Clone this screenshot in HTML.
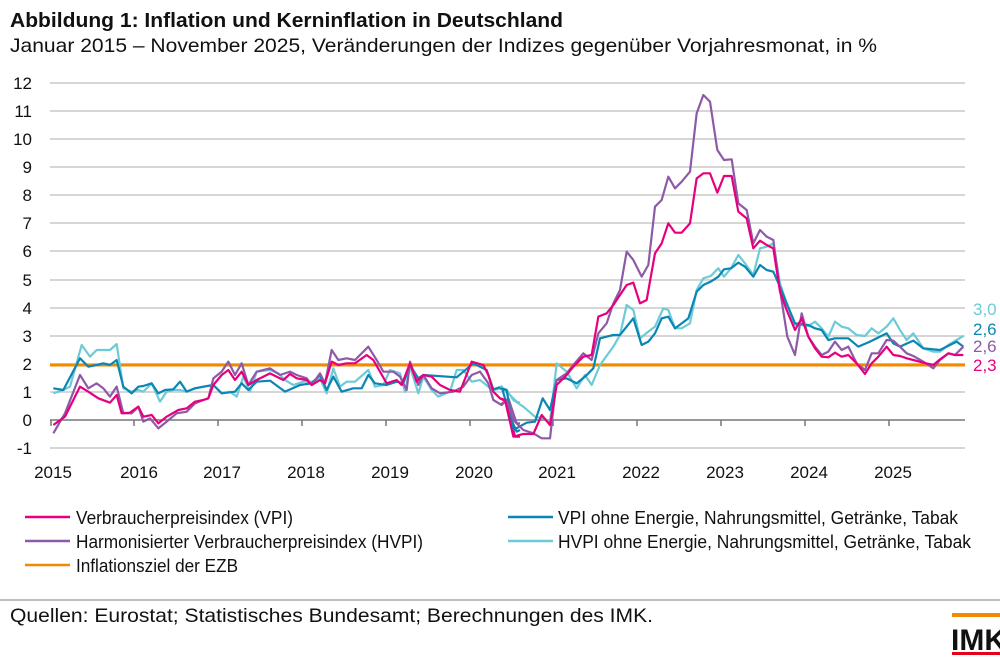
<!DOCTYPE html>
<html><head><meta charset="utf-8"><style>
html,body{margin:0;padding:0;background:#fff;width:1000px;height:659px;overflow:hidden}
svg{display:block;font-family:"Liberation Sans",sans-serif}
</style></head><body>
<svg width="1000" height="659" viewBox="0 0 1000 659">
<text x="10" y="27" font-size="20" font-weight="bold" fill="#111" textLength="553" lengthAdjust="spacingAndGlyphs">Abbildung 1: Inflation und Kerninflation in Deutschland</text>
<text x="10" y="52" font-size="19.5" fill="#111" textLength="867" lengthAdjust="spacingAndGlyphs">Januar 2015 – November 2025, Veränderungen der Indizes gegenüber Vorjahresmonat, in %</text>
<g stroke="#c8c8c8" stroke-width="1.5">
<line x1="50" x2="965" y1="83" y2="83"/><line x1="50" x2="965" y1="111" y2="111"/><line x1="50" x2="965" y1="139" y2="139"/><line x1="50" x2="965" y1="167" y2="167"/><line x1="50" x2="965" y1="195" y2="195"/><line x1="50" x2="965" y1="223" y2="223"/><line x1="50" x2="965" y1="251" y2="251"/><line x1="50" x2="965" y1="280" y2="280"/><line x1="50" x2="965" y1="308" y2="308"/><line x1="50" x2="965" y1="336" y2="336"/><line x1="50" x2="965" y1="364" y2="364"/><line x1="50" x2="965" y1="392" y2="392"/><line x1="50" x2="965" y1="448" y2="448"/>
</g>
<line x1="50" x2="965" y1="420" y2="420" stroke="#777" stroke-width="1.5"/>
<g stroke="#777" stroke-width="1.5">
<line x1="51" x2="51" y1="420" y2="426"/><line x1="134" x2="134" y1="420" y2="426"/><line x1="218" x2="218" y1="420" y2="426"/><line x1="302" x2="302" y1="420" y2="426"/><line x1="386" x2="386" y1="420" y2="426"/><line x1="470" x2="470" y1="420" y2="426"/><line x1="553" x2="553" y1="420" y2="426"/><line x1="637" x2="637" y1="420" y2="426"/><line x1="721" x2="721" y1="420" y2="426"/><line x1="805" x2="805" y1="420" y2="426"/><line x1="889" x2="889" y1="420" y2="426"/>
</g>
<g font-size="17" fill="#111" text-anchor="end">
<text x="32" y="89">12</text><text x="32" y="117">11</text><text x="32" y="145">10</text><text x="32" y="173">9</text><text x="32" y="201">8</text><text x="32" y="229">7</text><text x="32" y="257">6</text><text x="32" y="286">5</text><text x="32" y="314">4</text><text x="32" y="342">3</text><text x="32" y="370">2</text><text x="32" y="398">1</text><text x="32" y="426">0</text><text x="32" y="454">-1</text>
</g>
<g font-size="17" fill="#111" text-anchor="middle">
<text x="53" y="478">2015</text><text x="139" y="478">2016</text><text x="222" y="478">2017</text><text x="306" y="478">2018</text><text x="390" y="478">2019</text><text x="474" y="478">2020</text><text x="557" y="478">2021</text><text x="641" y="478">2022</text><text x="725" y="478">2023</text><text x="809" y="478">2024</text><text x="893" y="478">2025</text>
</g>
<line x1="50" x2="965" y1="365" y2="365" stroke="#f28a00" stroke-width="3"/>
<g fill="none" stroke-width="2.2" stroke-linejoin="round">
<g transform="translate(40,70) scale(0.33333)">
<polyline vector-effect="non-scaling-stroke" stroke="#6ccbd6" points="40,970 70,960 90,950 125,825 150,860 170,840 210,840 230,822 250,955 275,965 295,960 310,965 335,940 360,995 380,965 400,960 420,960 440,965 465,955 490,950 520,945 545,970 570,965 590,980 610,920 630,965 650,905 690,900 715,910 735,930 760,945 790,935 815,935 840,925 860,970 880,895 900,950 920,935 945,935 985,900 1005,950 1030,945 1050,900 1080,910 1095,965 1110,890 1135,970 1150,920 1175,960 1195,980 1230,965 1250,900 1270,900 1295,935 1320,930 1345,950 1360,960 1385,955 1410,975 1430,995 1440,998"/>
<polyline vector-effect="non-scaling-stroke" stroke="#0a86b4" points="40,955 70,960 120,865 145,890 170,885 190,880 210,885 230,870 250,950 275,970 295,950 310,948 335,940 355,970 375,960 400,958 420,935 440,965 465,955 490,950 520,945 545,970 585,965 605,940 625,960 650,935 690,932 735,965 780,945 815,940 840,915 860,960 880,920 905,965 940,955 965,955 985,915 1005,940 1040,945 1070,935 1090,940 1110,885 1135,925 1150,915 1250,922 1300,880 1340,900 1360,958 1385,950 1410,1040 1430,1085 1440,1080"/>
<polyline vector-effect="non-scaling-stroke" stroke="#8e5aa8" points="40,1090 75,1030 120,915 145,955 170,940 190,955 210,980 230,950 250,1030 275,1030 295,1010 310,1055 330,1045 355,1075 380,1055 410,1030 440,1025 465,1000 490,990 505,985 520,925 545,905 565,875 585,915 605,880 625,945 650,905 690,895 720,915 750,905 770,915 800,925 815,945 840,910 855,940 875,840 895,870 920,865 945,870 985,830 1010,870 1030,905 1060,905 1080,920 1100,960 1110,875 1135,945 1150,915 1175,955 1200,970 1240,965 1270,950 1295,915 1320,905 1345,940 1360,990 1385,1005 1405,985 1430,1060 1440,1060"/>
<polyline vector-effect="non-scaling-stroke" stroke="#e6007e" points="40,1065 75,1040 120,950 145,965 175,985 210,998 230,975 245,1030 270,1028 295,1010 310,1040 335,1035 355,1060 380,1040 415,1020 440,1015 465,995 490,990 505,985 520,945 545,915 565,900 585,930 605,905 625,945 650,930 690,910 730,930 750,912 770,925 800,930 815,945 840,930 855,940 875,875 895,885 920,880 945,880 980,855 1000,870 1020,905 1040,940 1070,930 1085,945 1110,880 1130,935 1150,915 1175,920 1200,945 1230,960 1260,965 1295,875 1330,885 1345,915 1360,965 1380,985 1400,995 1425,1100 1440,1100"/>
</g>
<g transform="translate(500,70) scale(0.33333)">
<polyline vector-effect="non-scaling-stroke" stroke="#6ccbd6" points="0,950 20,960 40,990 70,1010 105,1040 130,1045 150,1055 170,880 200,905 230,955 255,915 275,945 300,885 340,830 360,795 380,705 400,720 420,805 445,785 465,770 490,715 505,720 525,775 545,775 570,760 590,660 610,625 632,618 655,595 672,620 693,595 715,555 735,580 760,615 780,535 800,530 820,520 840,640 860,700 885,765 905,765 925,768 945,755 965,775 985,800 1005,755 1025,770 1045,775 1070,795 1095,798 1115,775 1135,790 1160,770 1180,745 1200,780 1220,810 1240,790 1270,835 1300,845 1320,845 1345,825 1370,810 1390,798"/>
<polyline vector-effect="non-scaling-stroke" stroke="#0a86b4" points="0,955 20,960 40,1080 80,1058 105,1055 128,985 150,1020 170,930 200,925 230,940 255,920 280,895 300,805 340,795 360,795 400,745 425,825 445,815 465,790 485,745 505,740 525,775 545,760 565,745 590,665 610,645 632,635 655,620 672,598 693,595 715,578 735,590 760,620 780,585 800,600 820,605 840,650 860,700 885,760 925,765 945,775 965,780 985,810 1005,805 1045,805 1075,830 1110,815 1140,800 1160,790 1180,820 1200,830 1240,812 1270,835 1320,840 1370,815 1390,830"/>
<polyline vector-effect="non-scaling-stroke" stroke="#8e5aa8" points="0,1005 20,990 40,1050 70,1080 100,1090 125,1105 150,1105 170,930 200,910 220,885 250,850 275,870 295,790 320,760 340,700 360,660 380,545 400,570 425,620 445,585 465,410 485,390 505,320 525,355 545,335 570,305 590,130 610,75 630,95 652,240 672,270 695,268 715,400 740,420 760,520 780,480 800,500 820,510 840,660 862,800 885,855 905,730 925,800 945,830 965,855 985,845 1005,815 1025,840 1045,830 1070,880 1095,900 1115,850 1135,850 1160,810 1180,812 1200,830 1220,850 1240,858 1270,875 1300,895 1320,870 1345,850 1365,855 1390,830"/>
<polyline vector-effect="non-scaling-stroke" stroke="#e6007e" points="0,985 15,990 40,1100 70,1092 100,1092 125,1035 150,1065 170,945 200,915 220,890 250,860 275,855 295,740 320,730 340,705 380,645 400,638 420,700 440,690 465,550 485,520 505,460 525,488 545,488 570,460 590,325 610,310 630,310 652,368 672,318 695,318 715,425 740,445 760,535 780,512 800,525 820,535 840,665 860,720 885,780 905,745 925,800 945,835 965,860 985,862 1005,848 1025,860 1045,855 1070,880 1095,912 1115,880 1135,860 1160,830 1180,855 1200,858 1220,865 1240,870 1270,878 1300,885 1320,868 1345,850 1365,855 1390,855"/>
</g>
</g>
<g font-size="17">
<text x="973" y="315" fill="#6ccbd6">3,0</text>
<text x="973" y="335" fill="#0a86b4">2,6</text>
<text x="973" y="352" fill="#8e5aa8">2,6</text>
<text x="973" y="371" fill="#e6007e">2,3</text>
</g>
<g stroke-width="2.5">
<line x1="25" x2="70" y1="517" y2="517" stroke="#e6007e"/>
<line x1="25" x2="70" y1="541" y2="541" stroke="#8e5aa8"/>
<line x1="25" x2="70" y1="565" y2="565" stroke="#f28a00"/>
<line x1="508" x2="553" y1="517" y2="517" stroke="#0a86b4"/>
<line x1="508" x2="553" y1="541" y2="541" stroke="#6ccbd6"/>
</g>
<g font-size="18" fill="#111" lengthAdjust="spacingAndGlyphs">
<text x="76" y="524" textLength="217" lengthAdjust="spacingAndGlyphs">Verbraucherpreisindex (VPI)</text>
<text x="76" y="548" textLength="347" lengthAdjust="spacingAndGlyphs">Harmonisierter Verbraucherpreisindex (HVPI)</text>
<text x="76" y="572" textLength="162" lengthAdjust="spacingAndGlyphs">Inflationsziel der EZB</text>
<text x="558" y="524" textLength="400" lengthAdjust="spacingAndGlyphs">VPI ohne Energie, Nahrungsmittel, Getränke, Tabak</text>
<text x="558" y="548" textLength="413" lengthAdjust="spacingAndGlyphs">HVPI ohne Energie, Nahrungsmittel, Getränke, Tabak</text>
</g>
<line x1="0" x2="1000" y1="600" y2="600" stroke="#999" stroke-width="1.2"/>
<text x="10" y="622" font-size="19.5" fill="#111" textLength="643" lengthAdjust="spacingAndGlyphs">Quellen: Eurostat; Statistisches Bundesamt; Berechnungen des IMK.</text>
<rect x="952" y="613" width="48" height="4" fill="#f28a00"/>
<text x="951" y="650" font-size="30" font-weight="bold" fill="#111">IMK</text>
<rect x="952" y="652" width="48" height="3" fill="#e2001a"/>
</svg>
</body></html>
